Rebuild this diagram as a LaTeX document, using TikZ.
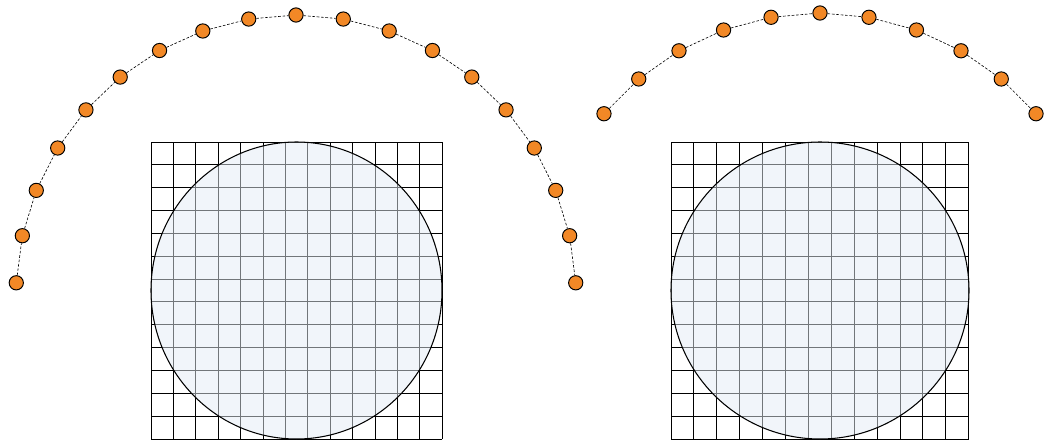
\documentclass[tikz,border=0pt]{standalone}
\usepackage{xcolor}
\usepackage{tikz}
\definecolor{beadfill}{RGB}{242, 136, 38}
\definecolor{diskfill}{RGB}{228, 236, 245}

\begin{document}
\begin{tikzpicture}[x=0.02cm, y=0.02cm,
	bead/.style={circle, draw=black, fill=beadfill, line width=0.55pt, inner sep=0pt, minimum size=0.285cm},
	track/.style={black, line width=0.35pt, dash pattern=on 1.5pt off 1pt},
	gridline/.style={black, line width=0.5pt},
	rim/.style={black, line width=0.6pt}]
			\useasboundingbox (0,0) rectangle (1045,441);

			% Left panel: 13x13 grid with inscribed disk
			\def\gx{151}
			\def\gy{2}
			\def\cw{22.4}
			\def\ch{22.85}
			\foreach \i in {0,...,13} {
				\draw[gridline] (\gx+\i*\cw, \gy) -- (\gx+\i*\cw, \gy+13*\ch);
				\draw[gridline] (\gx, \gy+\i*\ch) -- (\gx+13*\cw, \gy+\i*\ch);
			}
			\fill[diskfill, fill opacity=0.5] (296.5,150.5) ellipse [x radius=145.5, y radius=148.5];
			\draw[rim] (296.5,150.5) ellipse [x radius=145.5, y radius=148.5];

			% Left arc of 19 beads
			\foreach \k in {0,...,18}
				\node[bead] (l\k) at ([shift={(177.5-\k*9.7222:280)}]296,146) {};
			\foreach \k [remember=\k as \p (initially 0)] in {1,...,18}
				\draw[track] (l\p) -- (l\k);

			% Right panel: 13x13 grid with inscribed disk
			\def\gx{671}
			\def\cw{22.9}
			\foreach \i in {0,...,13} {
				\draw[gridline] (\gx+\i*\cw, \gy) -- (\gx+\i*\cw, \gy+13*\ch);
				\draw[gridline] (\gx, \gy+\i*\ch) -- (\gx+13*\cw, \gy+\i*\ch);
			}
			\fill[diskfill, fill opacity=0.5] (820,150.5) ellipse [x radius=149, y radius=148.5];
			\draw[rim] (820,150.5) ellipse [x radius=149, y radius=148.5];

			% Right arc of 11 beads
			\foreach \k in {0,...,10}
				\node[bead] (r\k) at ([shift={(140-\k*10:282)}]820,146) {};
			\foreach \k [remember=\k as \p (initially 0)] in {1,...,10}
				\draw[track] (r\p) -- (r\k);

		\end{tikzpicture}
\end{document}
